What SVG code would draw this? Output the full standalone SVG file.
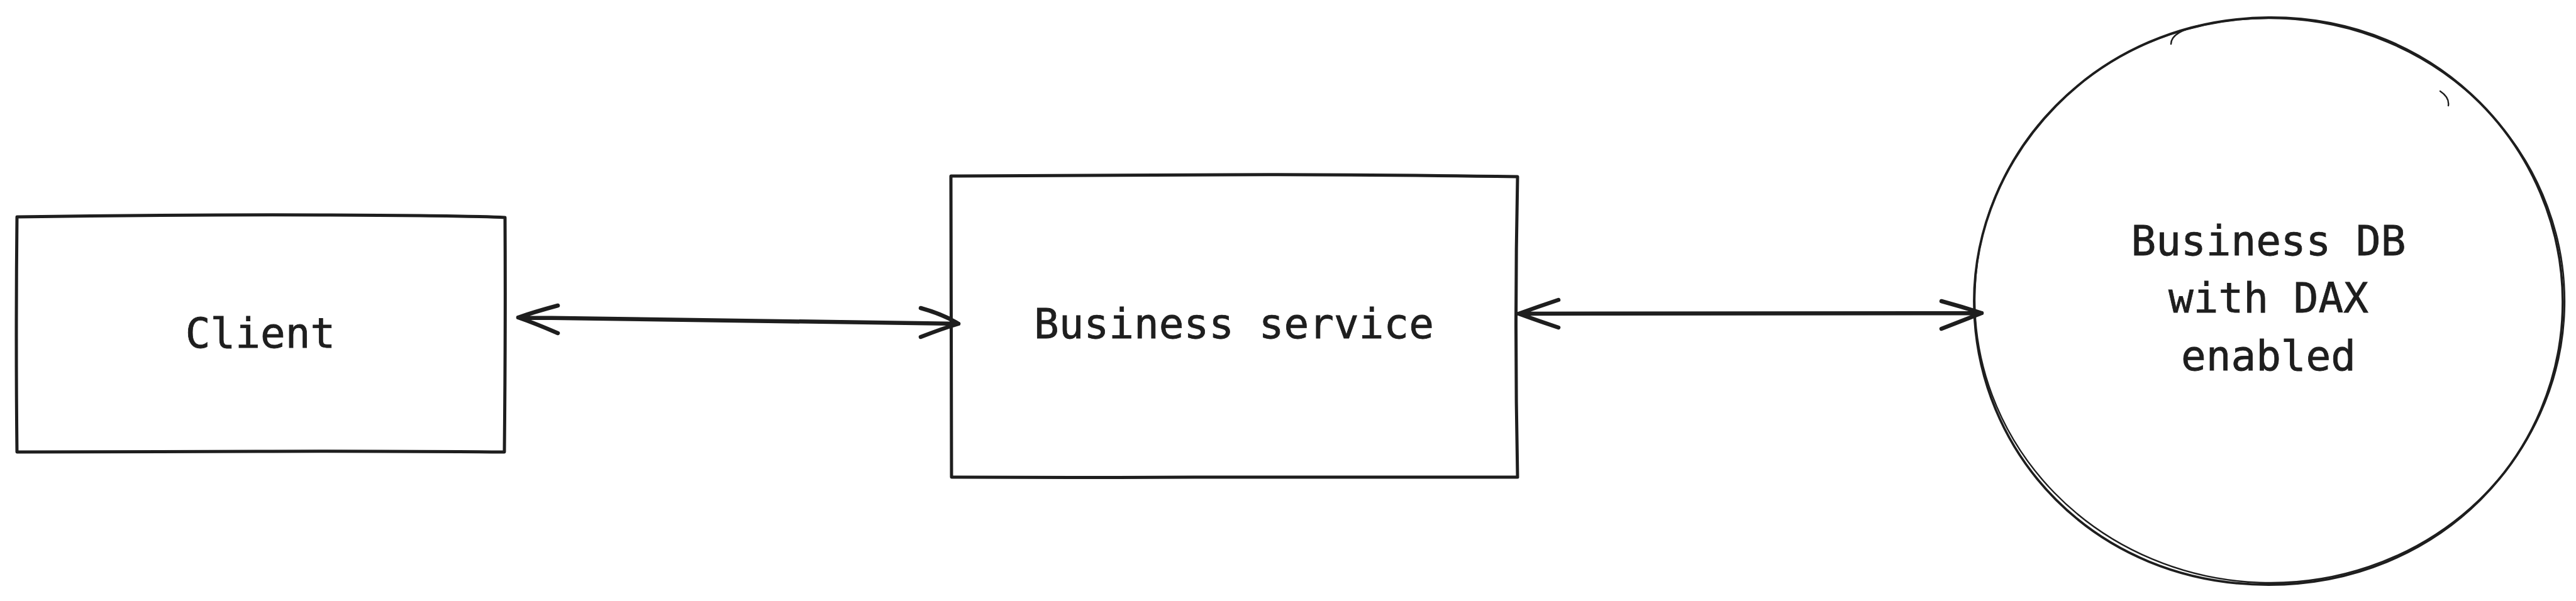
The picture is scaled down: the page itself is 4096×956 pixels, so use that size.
<svg xmlns="http://www.w3.org/2000/svg" width="4096" height="956" viewBox="0 0 4096 956">
<style>
.edge{fill:none;stroke:#1e1e1e;stroke-linecap:round;stroke-linejoin:round}
.box{stroke-width:5}
.circ{stroke-width:3.8}
.circ2{stroke-width:2.4}
.conn{stroke-width:6.5}
.lbl{font-family:"DejaVu Sans Mono","Liberation Mono",monospace;font-size:66px;fill:#1e1e1e;stroke:#1e1e1e;stroke-width:0.8;text-anchor:middle}
</style>
<rect width="4096" height="956" fill="#ffffff"/>
<g id="client">
<path class="edge box" d="M27 345 Q300 341 525 342 T803 346 M803 346 Q804 520 802 719 M802 719 Q560 717 410 718 T27 719 M27 719 Q25 540 27 345"/>
<text class="lbl" x="414" y="553">Client</text>
</g>
<g id="business-service">
<path class="edge box" d="M1512 280 Q1800 279 1950 278 T2413 281 M2413 281 Q2408 520 2413 759 M2413 759 Q2100 758 1900 759 T1513 759 M1513 759 Q1512 520 1512 280"/>
<text class="lbl" x="1962" y="538">Business service</text>
</g>
<g id="business-db">
<path class="edge circ" d="M3139 479 C3139 250 3330 30 3607 28 C3880 26 4074 240 4075 479 C4076 720 3880 930 3607 930 C3330 930 3139 720 3139 479"/>
<ellipse class="edge circ2" cx="3609" cy="478" rx="469" ry="449" transform="rotate(2 3609 478)"/>
<path class="edge circ2" d="M3452 70 Q3452 50 3500 40 M3880 145 Q3895 155 3893 168"/>
<text class="lbl" x="3607" y="406">Business DB</text>
<text class="lbl" x="3607" y="497">with DAX</text>
<text class="lbl" x="3607" y="589">enabled</text>
</g>
<g id="connectors">
<path class="edge conn" d="M824 505 L1524 515 M887 486 Q850 496 824 505 Q850 514 887 530 M1464 490 Q1500 500 1524 515 Q1500 522 1464 536"/>
<path class="edge conn" d="M2415 499 L3151 498 M2478 477 Q2445 488 2415 499 Q2445 510 2478 521 M3087 479 Q3120 488 3151 498 Q3120 510 3087 523"/>
</g>
</svg>
